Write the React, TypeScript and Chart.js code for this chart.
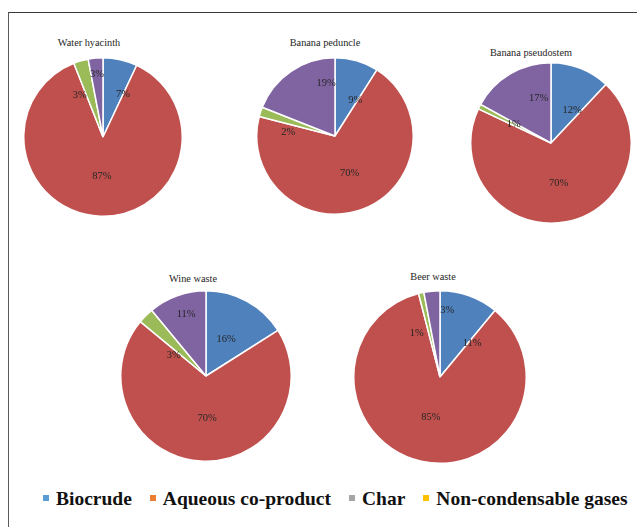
import React, { useEffect, useRef } from "react";
import { Chart, registerables } from "chart.js";

Chart.register(...registerables);

// Product fractions (%) for each feedstock, in slice order
const categories = ["Biocrude", "Aqueous co-product", "Char", "Non-condensable gases"];
const waterHyacinth = [7, 87, 3, 3];
const bananaPeduncle = [9, 70, 2, 19];
const bananaPseudostem = [12, 70, 1, 17];
const wineWaste = [16, 70, 3, 11];
const beerWaste = [11, 85, 1, 3];

const sliceColors = ["#4F81BD", "#C0504D", "#9BBB59", "#8064A2"];
const legendColors = ["#5B9BD5", "#ED7D31", "#A5A5A5", "#FFC000"];

// Label placement for each slice: [position along the slice's sweep (0 = start,
// 1 = end), distance from the centre as a fraction of the radius]
type Spot = [number, number];
const spotsWaterHyacinth: Spot[] = [[1.0, 0.59], [0.5, 0.49], [-0.7, 0.6], [0.5, 0.8]];
const spotsBananaPeduncle: Spot[] = [[0.9, 0.53], [0.5, 0.51], [-1.3, 0.6], [0.86, 0.69]];
const spotsBananaPseudostem: Spot[] = [[0.75, 0.49], [0.5, 0.51], [0.5, 0.52], [0.75, 0.58]];
const spotsWineWaste: Spot[] = [[0.5, 0.49], [0.48, 0.49], [-0.6, 0.45], [0.55, 0.76]];
const spotsBeerWaste: Spot[] = [[1.1, 0.54], [0.5, 0.48], [-3.8, 0.57], [1.57, 0.78]];

type PieSpec = {
  title: string;
  values: number[];
  spots: Spot[];
  cx: number;
  cy: number;
  r: number;
  tx: number;
  ty: number;
};

const pies: PieSpec[] = [
  { title: "Water hyacinth", values: waterHyacinth, spots: spotsWaterHyacinth, cx: 103, cy: 137, r: 79, tx: 89, ty: 43 },
  { title: "Banana peduncle", values: bananaPeduncle, spots: spotsBananaPeduncle, cx: 335, cy: 136, r: 78, tx: 325, ty: 43 },
  { title: "Banana pseudostem", values: bananaPseudostem, spots: spotsBananaPseudostem, cx: 551, cy: 143, r: 80, tx: 531, ty: 53 },
  { title: "Wine waste", values: wineWaste, spots: spotsWineWaste, cx: 206, cy: 376, r: 85, tx: 193, ty: 279 },
  { title: "Beer waste", values: beerWaste, spots: spotsBeerWaste, cx: 440, cy: 376.5, r: 86, tx: 433, ty: 277 },
];

const SERIF = '"Liberation Serif", "Times New Roman", Times, serif';

// Writes each slice's percentage on the pie
const sliceLabels = {
  id: "sliceLabels",
  afterDatasetsDraw(chart: any, _args: any, opts: any) {
    const spots: Spot[] = opts.spots || [];
    const ctx = chart.ctx;
    const meta = chart.getDatasetMeta(0);
    const data = chart.data.datasets[0].data as number[];
    ctx.save();
    ctx.font = `10.5px ${SERIF}`;
    ctx.fillStyle = "#262626";
    ctx.textAlign = "center";
    ctx.textBaseline = "middle";
    meta.data.forEach((arc: any, i: number) => {
      const { x, y, startAngle, endAngle, outerRadius } = arc.getProps(
        ["x", "y", "startAngle", "endAngle", "outerRadius"],
        true
      );
      const [t, rf] = spots[i] || [0.5, 0.5];
      const a = startAngle + (endAngle - startAngle) * t;
      const d = outerRadius * rf;
      ctx.fillText(`${data[i]}%`, x + Math.cos(a) * d, y + Math.sin(a) * d);
    });
    ctx.restore();
  },
};

function PieChart({ spec }: { spec: PieSpec }) {
  const ref = useRef<HTMLCanvasElement>(null);
  const size = Math.round(spec.r * 2 + 2);
  useEffect(() => {
    if (!ref.current) return;
    const chart = new Chart(ref.current, {
      type: "pie",
      data: {
        labels: categories,
        datasets: [
          {
            data: spec.values,
            backgroundColor: sliceColors,
            borderColor: "#ffffff",
            borderWidth: 1.5,
            hoverOffset: 0,
            offset: 0,
          },
        ],
      },
      options: {
        responsive: false,
        maintainAspectRatio: false,
        animation: false,
        devicePixelRatio: 1,
        layout: { padding: 0 },
        events: [],
        plugins: {
          legend: { display: false },
          tooltip: { enabled: false },
          title: { display: false },
          sliceLabels: { spots: spec.spots },
        } as any,
      },
      plugins: [sliceLabels],
    });
    return () => chart.destroy();
  }, [spec]);
  return (
    <>
      <canvas
        ref={ref}
        width={size}
        height={size}
        style={{
          position: "absolute",
          left: spec.cx - size / 2,
          top: spec.cy - size / 2,
          width: size,
          height: size,
        }}
      />
      <div
        style={{
          position: "absolute",
          left: spec.tx,
          top: spec.ty,
          transform: "translate(-50%, -50%)",
          fontFamily: SERIF,
          fontSize: 10.3,
          color: "#262626",
          whiteSpace: "nowrap",
          lineHeight: "12px",
        }}
      >
        {spec.title}
      </div>
    </>
  );
}

export default function App() {
  return (
    <div
      style={{
        position: "fixed",
        left: 0,
        top: 0,
        width: 637,
        height: 527,
        background: "#ffffff",
        overflow: "hidden",
      }}
    >
      {/* frame: top and left rules */}
      <div
        style={{
          position: "absolute",
          left: 8,
          top: 12,
          width: 640,
          height: 530,
          borderTop: "1.5px solid #3a3a3a",
          borderLeft: "1.5px solid #5a5a5a",
        }}
      />
      {pies.map((p) => (
        <PieChart key={p.title} spec={p} />
      ))}
      <div
        style={{
          position: "absolute",
          left: 43,
          top: 489,
          display: "flex",
          alignItems: "center",
          fontFamily: SERIF,
          fontWeight: "bold",
          fontSize: 19.5,
          lineHeight: "20px",
          color: "#111",
          whiteSpace: "nowrap",
        }}
      >
        {categories.map((c, i) => (
          <div
            key={c}
            style={{ display: "flex", alignItems: "center", marginRight: i < 3 ? 18 : 0 }}
          >
            <span
              style={{
                display: "inline-block",
                width: 6,
                height: 6,
                background: legendColors[i],
                marginRight: 7,
                transform: "translateY(-1px)",
              }}
            />
            <span>{c}</span>
          </div>
        ))}
      </div>
    </div>
  );
}
